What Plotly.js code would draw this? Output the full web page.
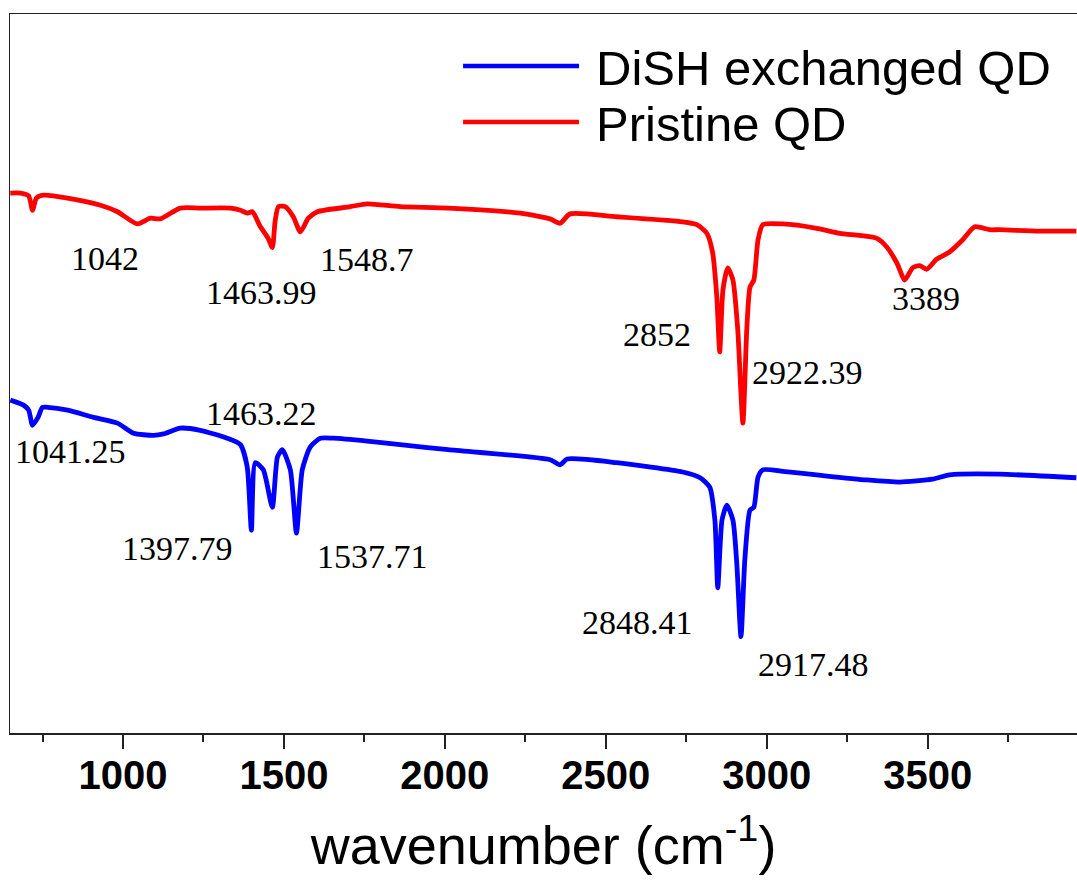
<!DOCTYPE html>
<html>
<head>
<meta charset="utf-8">
<script src="https://cdn.plot.ly/plotly-3.0.1.min.js"></script>
<style>html,body{margin:0;padding:0;background:#fff;}#chart{width:1077px;height:887px;}</style>
</head>
<body>
<div id="chart"></div>
<script>
// Pristine QD spectrum (wavenumber cm^-1, transmittance a.u.)
const pristineX = [650,682,707,719,731,753,828,930,983,1045,1085,1116,1178,1240,1334,1365,1386,1402,1427,1451,1464,1473,1483,1504,1529,1551,1576,1604,1706,1759,1861,2010,2234,2327,2358,2389,2534,2739,2783,2814,2832,2845,2854,2864,2879,2895,2910,2926,2938,2948,2960,2973,2988,3050,3155,3227,3342,3373,3404,3429,3453,3475,3497,3528,3568,3609,3646,3692,3723,3847,3962];
const pristineY = [75.1,75.1,74.7,72.7,74.4,74.8,74.4,73.4,72.5,70.8,71.6,71.5,73.0,73.0,73.0,72.7,72.3,72.5,70.4,68.8,67.5,71.3,73.2,73.2,71.8,69.7,71.6,72.5,73.2,73.6,73.2,73.0,72.3,71.5,70.9,72.2,71.8,71.1,70.7,69.5,66.8,60.6,53.0,61.6,64.7,63.0,56.1,43.1,56.1,62.0,63.0,68.6,70.7,70.8,70.2,69.5,68.8,67.6,65.4,63.0,64.7,65.0,64.5,65.9,66.9,68.6,70.4,70.0,70.0,69.8,69.8];

// DiSH exchanged QD spectrum
const dishX = [650,691,707,719,736,750,766,828,909,983,1033,1095,1126,1178,1240,1324,1365,1386,1399,1411,1436,1464,1480,1495,1520,1539,1557,1582,1613,1653,1759,1861,2010,2327,2358,2380,2534,2739,2793,2823,2839,2848,2861,2876,2895,2907,2920,2932,2948,2960,2973,2988,3050,3155,3310,3413,3515,3568,3723,3962];
const dishY = [46.3,45.6,44.9,42.8,43.9,45.3,45.3,44.9,43.9,43.1,41.7,41.4,41.6,42.4,42.1,41.0,40.1,37.0,28.2,37.6,36.6,31.4,38.4,39.4,36.6,27.8,36.6,39.8,41.0,41.0,40.6,40.1,39.4,38.0,37.3,38.1,37.6,36.3,35.5,34.2,29.6,20.2,29.6,31.7,29.6,23.6,13.4,24.1,31.0,31.4,35.6,36.6,36.4,35.9,35.2,34.9,35.3,35.9,36.0,35.5];

const seriesNames = ["DiSH exchanged QD", "Pristine QD"];
const seriesColors = ["#0000ff", "#ff0000"];

// Peak labels
const pristineLabels = ["1042", "1463.99", "1548.7", "2852", "2922.39", "3389"];
const dishLabels = ["1041.25", "1463.22", "1397.79", "1537.71", "2848.41", "2917.48"];

const xTickVals = [1000, 1500, 2000, 2500, 3000, 3500];
const xTickText = ["1000", "1500", "2000", "2500", "3000", "3500"];

// label placement (data coordinates)
const pristineLabelPos = [[943,66.0],[1430,61.2],[1759,65.8],[2659,55.4],[3127,50.2],[3494,60.4]];
const dishLabelPos = [[837,39.1],[1430,44.4],[1169,25.6],[1774,24.6],[2600,15.3],[3146,9.5]];

const traces = [
  {x: dishX, y: dishY, type: 'scatter', mode: 'lines', name: seriesNames[0],
   line: {color: seriesColors[0], width: 4.8, shape: 'spline', smoothing: 0.6}, showlegend: false},
  {x: pristineX, y: pristineY, type: 'scatter', mode: 'lines', name: seriesNames[1],
   line: {color: seriesColors[1], width: 4.8, shape: 'spline', smoothing: 0.6}, showlegend: false}
];

const annFont = {family: 'Liberation Serif, Times New Roman, serif', size: 34, color: '#000'};
const annotations = [];
pristineLabels.forEach((t, i) => annotations.push({x: pristineLabelPos[i][0], y: pristineLabelPos[i][1], xref: 'x', yref: 'y', text: t, showarrow: false, font: annFont}));
dishLabels.forEach((t, i) => annotations.push({x: dishLabelPos[i][0], y: dishLabelPos[i][1], xref: 'x', yref: 'y', text: t, showarrow: false, font: annFont}));

// custom legend
const legRows = [0.9277, 0.8498];
const shapes = [];
seriesNames.forEach((n, i) => {
  shapes.push({type: 'line', xref: 'paper', yref: 'paper', x0: 0.4246, x1: 0.5333, y0: legRows[i], y1: legRows[i],
    line: {color: seriesColors[i], width: 4.5}});
  annotations.push({xref: 'paper', yref: 'paper', x: 0.5473, y: legRows[i], xanchor: 'left', yanchor: 'middle',
    yshift: -2, text: n, showarrow: false, font: {family: 'Liberation Sans, Arial, sans-serif', size: 49, color: '#000'}});
});

const layout = {
  width: 1077, height: 887,
  margin: {l: 10, r: 0, t: 14, b: 154},
  paper_bgcolor: '#fff', plot_bgcolor: '#fff',
  showlegend: false,
  xaxis: {
    range: [649, 3964], showgrid: false, zeroline: false,
    showline: true, linecolor: '#222', linewidth: 1.5, mirror: true,
    ticks: 'outside', ticklen: 14, tickwidth: 2, tickcolor: '#222',
    tickmode: 'array', tickvals: xTickVals, ticktext: xTickText, ticklabelstandoff: -8,
    tickfont: {family: 'Liberation Sans, Arial, sans-serif', size: 40, color: '#000', weight: 'bold'},
    minor: {dtick: 250, tick0: 750, ticks: 'outside', ticklen: 7, tickwidth: 2, tickcolor: '#222', showgrid: false},
    title: {text: 'wavenumber (cm<sup>-1</sup>)', font: {family: 'Liberation Sans, Arial, sans-serif', size: 54, color: '#000'}, standoff: 30},
    automargin: false
  },
  yaxis: {
    range: [0, 100], showgrid: false, zeroline: false, showticklabels: false, ticks: '',
    showline: true, linecolor: '#222', linewidth: 1.5, mirror: false, automargin: false
  },
  annotations: annotations,
  shapes: shapes
};

Plotly.newPlot('chart', traces, layout, {displayModeBar: false, staticPlot: true});
</script>
</body>
</html>
